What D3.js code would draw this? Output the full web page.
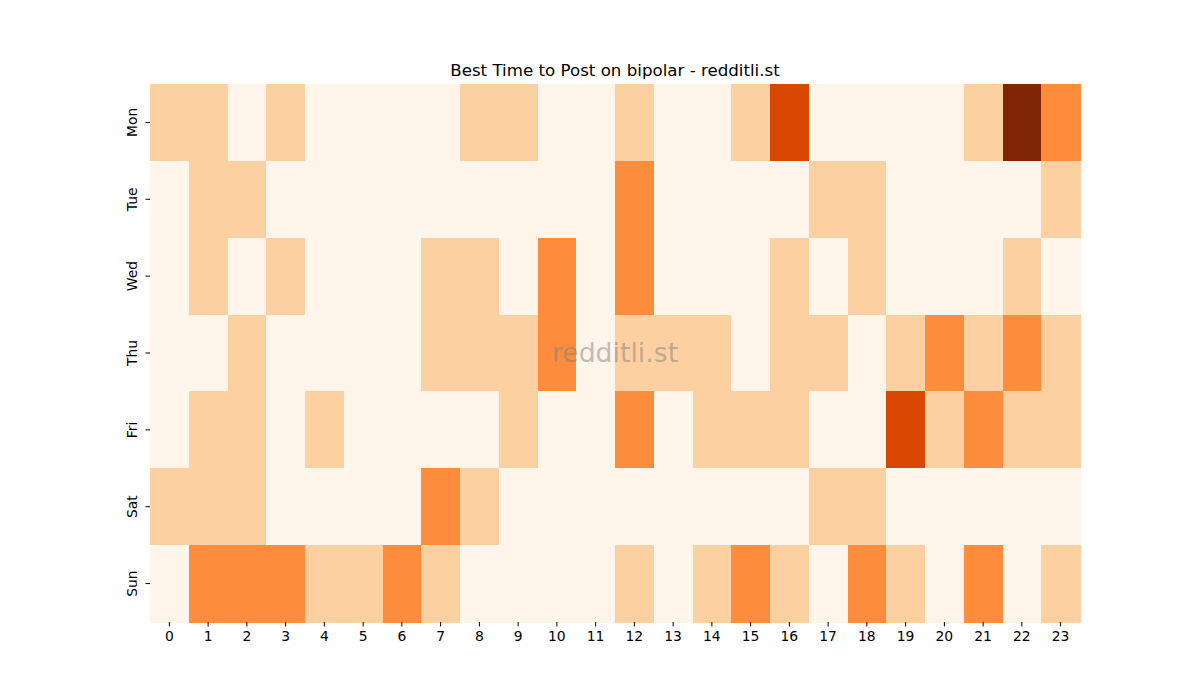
<!DOCTYPE html>
<html>
<head>
<meta charset="utf-8">
<script src="https://cdn.jsdelivr.net/npm/d3@7"></script>
<style>
  body { margin: 0; background: #fff; }
  text { font-family: "DejaVu Sans", sans-serif; }
</style>
</head>
<body>
<svg id="chart" width="1200" height="700"></svg>
<script>
// heatmap data, one row per weekday, 24 hours each
var days = ["Mon", "Tue", "Wed", "Thu", "Fri", "Sat", "Sun"];
var hours = d3.range(24);
var Mon = [1,1,0,1,0,0,0,0,1,1,0,0,1,0,0,1,3,0,0,0,0,1,4,2];
var Tue = [0,1,1,0,0,0,0,0,0,0,0,0,2,0,0,0,0,1,1,0,0,0,0,1];
var Wed = [0,1,0,1,0,0,0,1,1,0,2,0,2,0,0,0,1,0,1,0,0,0,1,0];
var Thu = [0,0,1,0,0,0,0,1,1,1,2,0,1,1,1,0,1,1,0,1,2,1,2,1];
var Fri = [0,1,1,0,1,0,0,0,0,1,0,0,2,0,1,1,1,0,0,3,1,2,1,1];
var Sat = [1,1,1,0,0,0,0,2,1,0,0,0,0,0,0,0,0,1,1,0,0,0,0,0];
var Sun = [0,2,2,2,1,1,2,1,0,0,0,0,1,0,1,2,1,0,2,1,0,2,0,1];
var rows = [Mon, Tue, Wed, Thu, Fri, Sat, Sun];

var svg = d3.select("#chart");
// plot box (note: "top" is taken by window.top, so use other names)
var mLeft = 150, mRight = 1080, mTop = 84, mBottom = 622;

var x = d3.scaleBand().domain(hours).range([mLeft, mRight]);
var y = d3.scaleBand().domain(days).range([mTop, mBottom]);
var color = d3.scaleLinear()
  .domain([0, 1, 2, 3, 4])
  .range(["#fff5eb", "#fdd0a2", "#fd8d3c", "#d94801", "#7f2704"]);

var cells = [];
rows.forEach(function(r, i) {
  r.forEach(function(v, h) {
    cells.push({day: days[i], hour: h, value: v});
  });
});

svg.append("g").attr("shape-rendering", "crispEdges")
  .selectAll("rect").data(cells).enter().append("rect")
  .attr("x", function(d) { return x(d.hour); })
  .attr("y", function(d) { return y(d.day); })
  .attr("width", x.bandwidth() + 0.5)
  .attr("height", y.bandwidth() + 0.5)
  .attr("fill", function(d) { return color(d.value); });

// axes
var xAxis = svg.append("g")
  .attr("transform", "translate(0," + mBottom + ")")
  .call(d3.axisBottom(x).tickSize(4.5).tickPadding(5));
var yAxis = svg.append("g")
  .attr("transform", "translate(" + mLeft + ",0)")
  .call(d3.axisLeft(y).tickSize(4.5).tickPadding(5));

[xAxis, yAxis].forEach(function(a) {
  a.select(".domain").remove();
  a.selectAll("line").attr("stroke", "#000").attr("stroke-width", 1);
  a.selectAll("text").attr("font-size", "13.9px").attr("fill", "#000")
    .style("font-family", "DejaVu Sans, sans-serif");
});

yAxis.selectAll(".tick text")
  .attr("text-anchor", "middle")
  .attr("x", null).attr("dy", null)
  .attr("transform", "translate(-18,0) rotate(-90)")
  .attr("dominant-baseline", "central");

// title
svg.append("text")
  .attr("x", (mLeft + mRight) / 2)
  .attr("y", 76)
  .attr("text-anchor", "middle")
  .attr("font-size", "16.67px")
  .text("Best Time to Post on bipolar - redditli.st");

// watermark
svg.append("text")
  .attr("x", (mLeft + mRight) / 2)
  .attr("y", (mTop + mBottom) / 2 + 9)
  .attr("text-anchor", "middle")
  .attr("font-size", "26.7px")
  .attr("fill", "#808080")
  .attr("fill-opacity", 0.5)
  .text("redditli.st");
</script>
</body>
</html>
